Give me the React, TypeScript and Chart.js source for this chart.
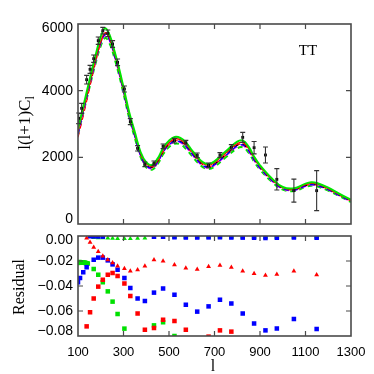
import React, { useEffect, useRef } from "react";
import { Chart, registerables } from "chart.js";

Chart.register(...registerables);

// ---------- Data: theory curves (top panel) ----------
const GRID_L = [100,125,150,175,200,220,240,260,280,300,325,350,375,400,425,450,475,500,525,550,575,600,625,650,675,700,750,800,825,850,875,900,950,1000,1050,1100,1125,1150,1200,1250,1300];
const GREEN_SOLID = [2860,3580,4300,5000,5620,5870,5650,5200,4680,4100,3350,2750,2160,1850,1770,1960,2290,2500,2610,2580,2440,2220,2010,1850,1800,1880,2180,2470,2500,2320,2010,1760,1380,1110,1070,1210,1250,1230,1090,900,730];
const RED_SOLID = [2780,3500,4200,4880,5480,5740,5560,5130,4620,4040,3300,2700,2120,1810,1730,1910,2230,2440,2550,2530,2390,2180,1970,1810,1760,1840,2130,2410,2440,2270,1970,1730,1360,1090,1050,1180,1220,1200,1060,880,710];
const BLACK_DASH = [2750,3460,4170,4860,5450,5700,5520,5090,4580,4000,3260,2660,2080,1770,1700,1880,2190,2400,2500,2480,2340,2130,1930,1770,1720,1800,2080,2360,2390,2220,1930,1690,1330,1070,1030,1150,1190,1170,1040,860,690];
const BLUE_DASH = [2700,3430,4150,4840,5440,5690,5500,5060,4550,3970,3230,2630,2060,1750,1680,1860,2170,2380,2480,2460,2320,2110,1910,1750,1700,1780,2060,2340,2370,2200,1910,1680,1320,1060,1020,1140,1180,1160,1030,850,680];
const MAGENTA_DASH = [2680,3400,4120,4810,5410,5660,5470,5030,4520,3950,3210,2610,2040,1730,1660,1840,2150,2360,2460,2440,2300,2090,1890,1730,1680,1760,2040,2320,2350,2180,1890,1660,1300,1050,1010,1130,1170,1150,1020,840,670];
const RED_DASH = [2600,3300,4050,4780,5420,5720,5600,5180,4660,4080,3330,2700,2100,1760,1690,1850,2160,2380,2490,2480,2350,2140,1930,1770,1720,1790,2070,2360,2400,2240,1950,1710,1340,1080,1030,1150,1190,1170,1040,860,690];
const GREEN_DASH = [2680,3380,4080,4760,5340,5580,5400,4980,4480,3910,3180,2580,2010,1700,1630,1800,2100,2310,2410,2390,2250,2050,1850,1700,1650,1720,2000,2270,2300,2140,1860,1630,1280,1030,990,1110,1150,1130,1000,830,660];

// ---------- Data: observed band powers ----------
const OBS_L = [103,116,138,153,169,189,209,231,252,274,304,330,362,394,434,474,524,574,624,674,724,774,824,874,924,974,1049,1149];
const OBS_V = [3170,3470,4330,4640,4960,5500,5800,5720,5400,4850,4050,3070,2270,1790,1820,2330,2500,2440,2060,1760,2070,2300,2600,2290,2070,1340,1000,1000];
const OBS_ERR = [160,150,130,120,110,110,100,100,100,100,90,90,80,70,70,70,70,70,70,70,70,80,150,185,240,320,345,600];

// ---------- Data: residuals (bottom panel) ----------
const RES_RTRI_L = [138,153,169,189,209,231,252,274,304,330,362,394,434,474,524,574,624,674,724,774,824,874,924,974,1049,1149];
const RES_RTRI_V = [-0.0016,-0.005,-0.009,-0.0125,-0.016,-0.019,-0.0215,-0.024,-0.026,-0.028,-0.027,-0.024,-0.019,-0.020,-0.023,-0.0256,-0.0267,-0.0245,-0.0235,-0.025,-0.028,-0.030,-0.0315,-0.0307,-0.028,-0.031];

const RES_GTRI_L = [169,189,209,231,252,274,304,330,362,394];
const RES_GTRI_V = [-0.0012,-0.0014,-0.0015,-0.0016,-0.0018,-0.002,-0.0021,-0.0021,-0.0019,-0.0016];

const RES_BTOP_L = [153,169,189,209,434,474,524,574,624,674,724,774,824,874,924,974,1049,1149];
const RES_BTOP_V = [-0.0002,-0.0003,-0.0004,-0.0005,-0.0006,-0.0006,-0.0010,-0.0012,-0.0012,-0.0011,-0.0010,-0.0012,-0.0013,-0.0014,-0.0016,-0.0014,-0.0012,-0.0014];

const RES_GTOP_L = [524,574,624,674,724,774,824,874,924,974,1049,1149];
const RES_GTOP_V = [-0.0004,-0.0004,-0.0004,-0.0003,-0.0003,-0.0004,-0.0004,-0.0005,-0.0006,-0.0005,-0.0004,-0.0004];

const RES_BSQ_L = [100,109,123,138,169,189,209,231,252,274,304,330,362,394,434,474,524,574,624,674,724,774,824,874,924,974,1049,1149];
const RES_BSQ_V = [-0.037,-0.0336,-0.029,-0.025,-0.019,-0.0173,-0.0173,-0.0195,-0.0227,-0.027,-0.0336,-0.0416,-0.050,-0.052,-0.0453,-0.042,-0.047,-0.055,-0.0605,-0.0563,-0.051,-0.054,-0.062,-0.070,-0.0755,-0.074,-0.0664,-0.0744];

const RES_RSQ_L = [138,153,169,189,209,231,252,274,304,330,362,394,434,474,524,574,674,724,774];
const RES_RSQ_V = [-0.0723,-0.061,-0.050,-0.0405,-0.035,-0.031,-0.0296,-0.032,-0.038,-0.048,-0.062,-0.075,-0.0736,-0.067,-0.068,-0.075,-0.0805,-0.0755,-0.0765];

const RES_GSQ_L = [100,103,106,109,112,115,118,121,124,127,130,134,138,143,169,189,209,231,252,274,304,434,474,524];
const RES_GSQ_V = [-0.0215,-0.021,-0.0208,-0.021,-0.0212,-0.0212,-0.021,-0.0212,-0.0214,-0.0213,-0.0214,-0.0216,-0.0218,-0.022,-0.0264,-0.031,-0.037,-0.0443,-0.0525,-0.0624,-0.0741,-0.0715,-0.069,-0.080];

// ---------- Axis settings ----------
const X_MIN = 100, X_MAX = 1300, X_STEP = 200;
const TOP_Y_MIN = 0, TOP_Y_MAX = 6000, TOP_Y_STEP = 2000;
const RES_Y_MIN = -0.08, RES_Y_MAX = 0, RES_Y_STEP = 0.02;

const SERIF = '"Liberation Serif", "Times New Roman", serif';
const SANS = '"Liberation Sans", Arial, Helvetica, sans-serif';

const pts = (xs: number[], ys: number[]) => xs.map((x, i) => ({ x, y: ys[i] }));

function framePlugin(opts: {
  yFmt: (v: number) => string;
  yFont: number;
  xLabels: boolean;
  extra?: (chart: any) => void;
}) {
  return {
    id: "frame",
    afterDraw(chart: any) {
      const { ctx, chartArea } = chart;
      const { left, right, top, bottom } = chartArea;
      const x = chart.scales.x;
      const y = chart.scales.y;
      ctx.save();
      ctx.strokeStyle = "#4a4a4a";
      ctx.lineWidth = 1.6;
      ctx.strokeRect(left, top, right - left, bottom - top);
      ctx.lineWidth = 1.2;
      ctx.beginPath();
      x.ticks.forEach((t: any) => {
        const px = x.getPixelForValue(t.value);
        if (px <= left + 1 || px >= right - 1) return;
        ctx.moveTo(px, bottom);
        ctx.lineTo(px, bottom - 5);
        ctx.moveTo(px, top);
        ctx.lineTo(px, top + 5);
      });
      y.ticks.forEach((t: any) => {
        const py = y.getPixelForValue(t.value);
        if (py <= top + 1 || py >= bottom - 1) return;
        ctx.moveTo(left, py);
        ctx.lineTo(left + 5, py);
        ctx.moveTo(right, py);
        ctx.lineTo(right - 5, py);
      });
      ctx.stroke();

      ctx.fillStyle = "#000";
      ctx.font = `${opts.yFont}px ${SANS}`;
      ctx.textAlign = "right";
      ctx.textBaseline = "middle";
      y.ticks.forEach((t: any) => {
        let py = y.getPixelForValue(t.value);
        py = Math.min(Math.max(py, top + 4), bottom - 4.5);
        ctx.fillText(opts.yFmt(t.value), left - 5, py);
      });

      if (opts.xLabels) {
        ctx.font = `13px ${SANS}`;
        ctx.textAlign = "center";
        ctx.textBaseline = "middle";
        x.ticks.forEach((t: any) => {
          const px = x.getPixelForValue(t.value);
          ctx.fillText(String(Math.round(t.value)), px, bottom + 16);
        });
      }
      if (opts.extra) opts.extra(chart);
      ctx.restore();
    },
  };
}

const errorBarPlugin = {
  id: "errbars",
  afterDatasetsDraw(chart: any) {
    const { ctx } = chart;
    const x = chart.scales.x;
    const y = chart.scales.y;
    ctx.save();
    ctx.strokeStyle = "#333333";
    ctx.lineWidth = 1.1;
    ctx.beginPath();
    OBS_L.forEach((l, i) => {
      const px = x.getPixelForValue(l);
      const y1 = y.getPixelForValue(OBS_V[i] - OBS_ERR[i]);
      const y2 = y.getPixelForValue(OBS_V[i] + OBS_ERR[i]);
      ctx.moveTo(px, y1);
      ctx.lineTo(px, y2);
      ctx.moveTo(px - 2.5, y1);
      ctx.lineTo(px + 2.5, y1);
      ctx.moveTo(px - 2.5, y2);
      ctx.lineTo(px + 2.5, y2);
    });
    ctx.stroke();
    ctx.restore();
  },
};

const lineDs = (data: number[], color: string, dash: number[], width: number) => ({
  data: pts(GRID_L, data),
  borderColor: color,
  borderWidth: width,
  borderDash: dash,
  pointRadius: 0,
  fill: false,
  tension: 0.4,
});

const scatterDs = (xs: number[], ys: number[], color: string, style: string, r: number) => ({
  data: pts(xs, ys),
  backgroundColor: color,
  borderColor: color,
  borderWidth: 0,
  pointStyle: style,
  pointRadius: r,
  showLine: false,
});

export default function App() {
  const topRef = useRef<HTMLCanvasElement>(null);
  const botRef = useRef<HTMLCanvasElement>(null);

  useEffect(() => {
    const top = new Chart(topRef.current as HTMLCanvasElement, {
      type: "line",
      data: {
        datasets: [
          {
            data: pts(OBS_L, OBS_V),
            backgroundColor: "#000",
            borderColor: "#000",
            borderWidth: 0,
            pointStyle: "rect",
            pointRadius: 2,
            showLine: false,
          } as any,
          lineDs(GREEN_SOLID, "#00e600", [], 2),
          lineDs(RED_SOLID, "#ff0000", [], 1.3),
          lineDs(BLUE_DASH, "#0000ff", [5, 4], 1.3),
          lineDs(BLACK_DASH, "#000000", [5, 4], 1.2),
          lineDs(MAGENTA_DASH, "#ff00ff", [5, 4], 1.3),
          lineDs(RED_DASH, "#ff0000", [5, 4], 1.2),
          lineDs(GREEN_DASH, "#00e600", [5, 4], 2),
        ],
      },
      options: {
        responsive: false,
        animation: false,
        layout: { padding: { left: 0, right: 23, top: 24, bottom: 6 } },
        plugins: { legend: { display: false }, tooltip: { enabled: false } },
        scales: {
          x: {
            type: "linear",
            min: X_MIN,
            max: X_MAX,
            ticks: { stepSize: X_STEP, display: false },
            grid: { display: false },
            border: { display: false },
            afterFit: (s: any) => { s.height = 0; },
          },
          y: {
            type: "linear",
            min: TOP_Y_MIN,
            max: TOP_Y_MAX,
            ticks: { stepSize: TOP_Y_STEP, display: false },
            grid: { display: false },
            border: { display: false },
            afterFit: (s: any) => { s.width = 78; },
          },
        },
      } as any,
      plugins: [
        errorBarPlugin,
        framePlugin({
          yFmt: (v) => String(Math.round(v)),
          yFont: 14,
          xLabels: false,
          extra: (chart: any) => {
            const { ctx } = chart;
            ctx.fillStyle = "#000";
            ctx.font = `15px ${SERIF}`;
            ctx.textAlign = "center";
            ctx.textBaseline = "middle";
            ctx.fillText("TT", 308, 51);
            // y title with subscript
            ctx.save();
            ctx.translate(26, 123);
            ctx.rotate(-Math.PI / 2);
            const main = "l(l+1)C";
            ctx.font = `17px ${SERIF}`;
            const w1 = ctx.measureText(main).width;
            ctx.font = `12px ${SERIF}`;
            const w2 = ctx.measureText("l").width;
            const start = -(w1 + w2) / 2;
            ctx.textAlign = "left";
            ctx.font = `17px ${SERIF}`;
            ctx.fillText(main, start, 0);
            ctx.font = `12px ${SERIF}`;
            ctx.fillText("l", start + w1, 5);
            ctx.restore();
          },
        }) as any,
      ],
    });

    const bot = new Chart(botRef.current as HTMLCanvasElement, {
      type: "scatter",
      data: {
        datasets: [
          scatterDs(RES_RTRI_L, RES_RTRI_V, "#ff0000", "triangle", 2.8),
          scatterDs(RES_BTOP_L, RES_BTOP_V, "#0000ff", "rect", 3.2),
          scatterDs(RES_GTOP_L, RES_GTOP_V, "#00e000", "rect", 3.2),
          scatterDs(RES_GTRI_L, RES_GTRI_V, "#00e000", "triangle", 2.8),
          scatterDs(RES_BSQ_L, RES_BSQ_V, "#0000ff", "rect", 3.2),
          scatterDs(RES_RSQ_L, RES_RSQ_V, "#ff0000", "rect", 3.2),
          scatterDs(RES_GSQ_L, RES_GSQ_V, "#00e000", "rect", 3.2),
        ] as any,
      },
      options: {
        responsive: false,
        animation: false,
        layout: { padding: { left: 0, right: 23, top: 10, bottom: 0 } },
        plugins: { legend: { display: false }, tooltip: { enabled: false } },
        scales: {
          x: {
            type: "linear",
            min: X_MIN,
            max: X_MAX,
            ticks: { stepSize: X_STEP, display: false },
            grid: { display: false },
            border: { display: false },
            afterFit: (s: any) => { s.height = 38; },
          },
          y: {
            type: "linear",
            min: RES_Y_MIN,
            max: RES_Y_MAX,
            ticks: { stepSize: RES_Y_STEP, display: false },
            grid: { display: false },
            border: { display: false },
            afterFit: (s: any) => { s.width = 78; },
          },
        },
      } as any,
      plugins: [
        framePlugin({
          yFmt: (v) => (Math.abs(v) < 1e-9 ? "0.00" : v.toFixed(2).replace("-", "\u2212")),
          yFont: 14,
          xLabels: true,
          extra: (chart: any) => {
            const { ctx } = chart;
            ctx.fillStyle = "#000";
            ctx.textAlign = "center";
            ctx.textBaseline = "middle";
            ctx.font = `16px ${SERIF}`;
            ctx.fillText("l", 213, 141);
            ctx.save();
            ctx.translate(20, 61);
            ctx.rotate(-Math.PI / 2);
            ctx.font = `16px ${SERIF}`;
            ctx.fillText("Residual", 0, 0);
            ctx.restore();
          },
        }) as any,
      ],
    });

    return () => {
      top.destroy();
      bot.destroy();
    };
  }, []);

  return (
    <div style={{ position: "fixed", left: 0, top: 0, width: 374, height: 374, background: "#fff" }}>
      <canvas
        ref={topRef}
        width={374}
        height={230}
        style={{ position: "absolute", left: 0, top: 0, width: 374, height: 230 }}
      />
      <canvas
        ref={botRef}
        width={374}
        height={148}
        style={{ position: "absolute", left: 0, top: 226, width: 374, height: 148 }}
      />
    </div>
  );
}
